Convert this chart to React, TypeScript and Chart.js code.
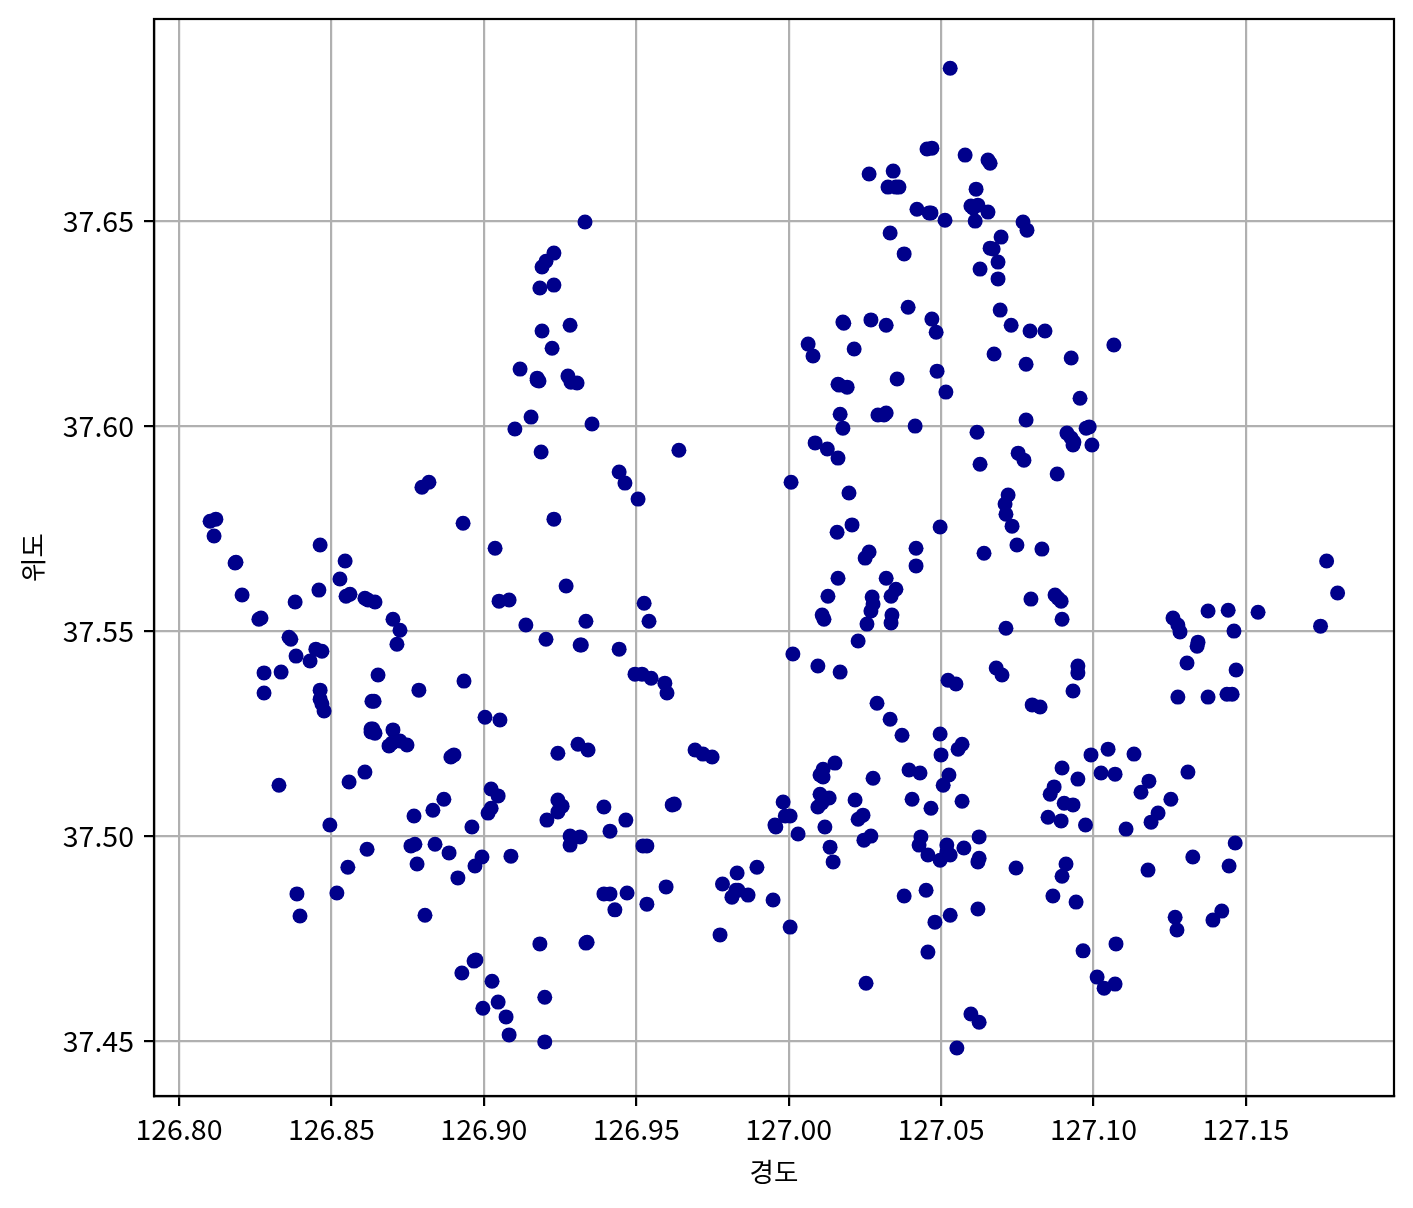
import React, { useEffect, useRef } from "react";
import { Chart, registerables } from "chart.js";

Chart.register(...registerables);

const xTitle = "경도";
const yTitle = "위도";

const longitudes = [
  127.053,127.0454,127.047,127.0579,127.0654,127.0661,127.0264,127.0343,127.0326,127.0352,127.0362,127.0615,
  127.0421,127.0461,127.0467,127.0513,127.0598,127.0621,127.0605,127.0654,127.0612,127.0769,127.0782,127.0333,
  127.0379,127.0697,127.0661,127.0671,127.0687,127.0628,127.0687,127.0392,127.0694,127.047,127.0484,127.027,
  127.032,127.0178,127.0181,127.073,127.0792,127.0841,127.0064,127.008,127.0215,127.0674,127.0779,127.0927,
  127.1067,127.0487,127.0356,127.0162,127.0166,127.0192,127.0516,127.0956,127.0169,127.0293,127.0313,127.032,
  127.0178,127.0415,127.0618,127.0779,127.0913,127.0927,127.0936,127.0933,127.0976,127.0986,127.0995,127.0087,
  127.0127,127.0162,127.0753,127.0772,127.0628,127.0881,127.0008,127.0198,127.072,127.071,127.0713,127.0733,
  127.0497,127.0208,127.0159,127.0749,127.0418,127.0831,127.0641,127.0264,127.0251,127.0418,127.0162,127.032,
  127.0352,127.0274,127.0336,127.0129,127.0277,127.027,127.0339,127.0336,127.011,127.0116,127.0257,127.0228,
  127.0713,127.0795,127.0874,127.0894,127.0884,127.0897,127.0014,127.0096,127.0169,127.0681,127.07,127.0949,
  127.0949,127.0933,127.0799,127.0825,127.029,127.0333,127.0372,127.0523,127.0549,127.0497,127.05,127.0556,
  127.0569,127.0152,127.0113,127.0103,127.0113,127.0395,127.0431,127.0526,127.0507,127.0277,127.0405,127.0467,
  127.0569,127.0218,127.0103,127.0133,127.0096,127.0109,126.9982,127.0005,126.9989,126.9955,126.9958,127.0031,
  127.0119,127.0136,127.0146,127.0228,127.0244,127.027,127.0247,127.0434,127.0428,127.0457,127.0497,127.0519,
  127.0519,127.053,127.0575,127.0625,127.0621,127.0625,127.0746,127.0379,127.0451,127.0621,127.053,127.048,
  127.0457,127.0254,127.0598,127.0625,127.0552,127.0005,126.9949,126.9896,126.9831,126.9783,126.9827,126.9814,
  126.9834,126.9867,126.9775,126.9749,126.9719,126.9693,126.9618,126.9625,126.9598,126.9535,126.947,126.9414,
  126.9394,126.943,126.9535,126.9522,126.9466,126.9414,126.9394,126.9335,126.9339,126.9184,126.92,126.92,
  126.9083,126.9073,126.9047,126.8997,126.9027,126.8974,126.8968,126.8928,126.8807,126.8397,126.8387,126.8518,
  126.8554,126.8617,126.8495,126.8771,126.8761,126.8774,126.8781,126.8833,126.8869,126.884,126.8886,126.8915,
  126.8971,126.8994,126.8961,126.9089,126.9014,126.9024,126.9024,126.9047,126.9004,126.9053,126.8935,126.8558,
  126.861,126.8328,126.8279,126.8279,126.8335,126.8361,126.8367,126.8384,126.843,126.8449,126.8469,126.8463,
  126.8463,126.8469,126.8476,126.8381,126.8459,126.8463,126.8545,126.8528,126.8548,126.8561,126.861,126.862,
  126.8643,126.8702,126.8725,126.8715,126.8653,126.8633,126.864,126.8787,126.863,126.8636,126.863,126.8643,
  126.8702,126.8689,126.8699,126.8725,126.8748,126.8892,126.8902,126.8262,126.8269,126.8207,126.8184,126.8187,
  126.8102,126.8121,126.8115,126.8797,126.882,126.8932,126.9037,126.905,126.9083,126.9138,126.9204,126.927,
  126.923,126.9335,126.9316,126.932,126.9444,126.9506,126.9463,126.9444,126.964,126.9355,126.9188,126.9102,
  126.9155,126.9119,126.9175,126.9181,126.9175,126.9276,126.9286,126.9306,126.9224,126.9191,126.9283,126.9184,
  126.923,126.9191,126.9204,126.923,126.9332,126.9526,126.9542,126.9496,126.9519,126.9549,126.9594,126.9601,
  126.9309,126.9342,126.9243,126.9243,126.9257,126.9243,126.9207,126.9283,126.9283,126.9316,127.0897,127.0871,
  127.0858,127.0949,127.0992,127.1025,127.1048,127.1071,127.1133,127.1182,127.1156,127.1254,127.1212,127.1189,
  127.1107,127.131,127.0904,127.0933,127.0851,127.0894,127.0974,127.1465,127.1326,127.1445,127.1179,127.091,
  127.0897,127.0867,127.0943,127.1421,127.1392,127.1268,127.1274,127.0966,127.1074,127.1012,127.1035,127.1071,
  127.1261,127.1277,127.1284,127.1343,127.134,127.1376,127.1442,127.154,127.1461,127.1307,127.1468,127.1277,
  127.1376,127.1438,127.1455,127.1745,127.1765,127.1801,
];

const latitudes = [
  37.6873,37.6676,37.6678,37.6661,37.6649,37.6641,37.6615,37.6622,37.6583,37.6583,37.6583,37.6578,
  37.6529,37.652,37.652,37.6502,37.6537,37.6539,37.6532,37.6522,37.65,37.6498,37.6478,37.6471,
  37.642,37.6461,37.6434,37.6432,37.64,37.6383,37.6359,37.629,37.6283,37.6261,37.6229,37.6259,
  37.6246,37.6254,37.6251,37.6246,37.6232,37.6232,37.62,37.6171,37.6188,37.6176,37.6151,37.6166,
  37.6198,37.6134,37.6115,37.6102,37.61,37.6095,37.6083,37.6068,37.6029,37.6027,37.6027,37.6032,
  37.5995,37.6,37.5985,37.6015,37.5983,37.5971,37.5961,37.5954,37.5995,37.5998,37.5954,37.5959,
  37.5944,37.5922,37.5934,37.5917,37.5907,37.5883,37.5863,37.5837,37.5832,37.581,37.5785,37.5756,
  37.5754,37.5759,37.5741,37.571,37.5702,37.57,37.569,37.5693,37.5678,37.5659,37.5629,37.5629,
  37.5602,37.5583,37.5585,37.5585,37.5566,37.5549,37.5539,37.552,37.5539,37.5529,37.5517,37.5476,
  37.5507,37.5578,37.5588,37.5573,37.558,37.5529,37.5444,37.5415,37.54,37.541,37.5393,37.5415,
  37.5398,37.5354,37.532,37.5315,37.5324,37.5285,37.5246,37.538,37.5371,37.5249,37.5198,37.5212,
  37.5224,37.5178,37.5163,37.5149,37.5144,37.5161,37.5154,37.5149,37.5124,37.5141,37.509,37.5068,
  37.5085,37.5088,37.5102,37.5093,37.5071,37.5081,37.5083,37.5049,37.5049,37.5027,37.5022,37.5005,
  37.5022,37.4973,37.4937,37.5041,37.5051,37.5,37.499,37.4998,37.4978,37.4954,37.4941,37.4978,
  37.4961,37.4954,37.4971,37.4998,37.4937,37.4946,37.4922,37.4854,37.4868,37.4822,37.4807,37.479,
  37.4717,37.4641,37.4566,37.4546,37.4483,37.4778,37.4844,37.4924,37.491,37.4883,37.4868,37.4851,
  37.4868,37.4856,37.4759,37.5193,37.52,37.521,37.5076,37.5078,37.4876,37.4834,37.4861,37.4859,
  37.4859,37.482,37.4976,37.4976,37.5039,37.5012,37.5071,37.4739,37.4741,37.4737,37.4607,37.4498,
  37.4515,37.4559,37.4595,37.458,37.4646,37.4698,37.4695,37.4666,37.4807,37.4805,37.4859,37.4861,
  37.4924,37.4968,37.5027,37.5049,37.4976,37.498,37.4932,37.5063,37.509,37.498,37.4959,37.4898,
  37.4927,37.4949,37.5022,37.4951,37.5056,37.5068,37.5115,37.5098,37.529,37.5283,37.5378,37.5132,
  37.5156,37.5124,37.5349,37.5398,37.54,37.5485,37.548,37.5439,37.5427,37.5456,37.5451,37.5356,
  37.5334,37.5322,37.5305,37.5571,37.56,37.571,37.5671,37.5627,37.5585,37.559,37.558,37.5576,
  37.5571,37.5529,37.5502,37.5468,37.5393,37.5329,37.5329,37.5356,37.5261,37.5261,37.5254,37.5251,
  37.5259,37.522,37.5227,37.5232,37.5222,37.5193,37.5198,37.5529,37.5532,37.5588,37.5666,37.5668,
  37.5768,37.5773,37.5732,37.5851,37.5863,37.5763,37.5702,37.5573,37.5576,37.5515,37.548,37.561,
  37.5773,37.5524,37.5466,37.5466,37.5456,37.5822,37.5861,37.5888,37.5941,37.6005,37.5937,37.5993,
  37.6022,37.6139,37.6117,37.611,37.6112,37.6122,37.6107,37.6105,37.619,37.6232,37.6246,37.6337,
  37.6344,37.6388,37.6402,37.6422,37.6498,37.5568,37.5524,37.5395,37.5395,37.5385,37.5373,37.5349,
  37.5224,37.521,37.5202,37.5088,37.5073,37.5059,37.5039,37.5,37.4978,37.4998,37.5166,37.512,
  37.5102,37.5139,37.5198,37.5154,37.5212,37.5151,37.52,37.5134,37.5107,37.509,37.5056,37.5034,
  37.5017,37.5156,37.508,37.5076,37.5046,37.5037,37.5027,37.4983,37.4949,37.4927,37.4917,37.4932,
  37.4902,37.4854,37.4839,37.4817,37.4795,37.4802,37.4771,37.472,37.4737,37.4656,37.4629,37.4639,
  37.5532,37.5515,37.5498,37.5473,37.5463,37.5549,37.5551,37.5546,37.55,37.5422,37.5405,37.5339,
  37.5339,37.5346,37.5346,37.5512,37.5671,37.5593,
];

const xRange = [126.7918, 127.1986];
const yRange = [37.4366, 37.6993];
const family = "'Noto Sans CJK KR', 'Noto Sans', sans-serif";
const tickFont = { family, size: 28.5 };
const titleFont = { family, size: 26.5 };

export default function App() {
  const ref = useRef<HTMLCanvasElement>(null);
  useEffect(() => {
    const frame = {
      id: "frame",
      afterDraw(c: any) {
        const { left, right, top, bottom } = c.chartArea;
        const g = c.ctx;
        g.save();
        g.strokeStyle = "#000";
        g.lineWidth = 2.2;
        g.strokeRect(left, top, right - left, bottom - top);
        g.restore();
      },
    };
    const gridStyle = { color: "#b0b0b0", lineWidth: 2.2, tickColor: "#000", tickLength: 10, tickWidth: 2.2 };
    const borderStyle = { display: true, color: "#000", width: 2.2 };
    const format = (v: any) => Number(v).toFixed(2);
    const chart = new Chart(ref.current!, {
      type: "scatter",
      data: {
        datasets: [
          {
            data: longitudes.map((x, i) => ({ x, y: latitudes[i] })),
            backgroundColor: "#00008b",
            borderColor: "#00008b",
            pointRadius: 7.5,
            pointBorderWidth: 0,
          },
        ],
      },
      options: {
        responsive: false,
        animation: false,
        layout: { padding: { left: 0, top: 19, right: 19, bottom: 0 } },
        plugins: { legend: { display: false }, tooltip: { enabled: false } },
        scales: {
          x: {
            type: "linear",
            min: xRange[0],
            max: xRange[1],
            afterFit: (s: any) => { s.height = 112; s.paddingLeft = 0; s.paddingRight = 0; },
            ticks: {
              stepSize: 0.05,
              includeBounds: false,
              maxRotation: 0,
              autoSkip: false,
              color: "#000",
              font: tickFont,
              padding: 6,
              callback: format,
            },
            grid: gridStyle,
            border: borderStyle,
            title: { display: true, text: xTitle, color: "#000", font: titleFont, padding: { top: 0, bottom: 20 } },
          },
          y: {
            type: "linear",
            min: yRange[0],
            max: yRange[1],
            afterFit: (s: any) => { s.width = 154; s.paddingTop = 0; s.paddingBottom = 0; },
            ticks: {
              stepSize: 0.05,
              includeBounds: false,
              autoSkip: false,
              color: "#000",
              font: tickFont,
              padding: 10,
              callback: format,
            },
            grid: gridStyle,
            border: borderStyle,
            title: { display: true, text: yTitle, color: "#000", font: titleFont, padding: { top: 17, bottom: 0 } },
          },
        },
      },
      plugins: [frame],
    } as any);
    return () => chart.destroy();
  }, []);
  return (
    <canvas
      ref={ref}
      width={1413}
      height={1208}
      style={{ position: "absolute", left: 0, top: 0, display: "block" }}
    />
  );
}
